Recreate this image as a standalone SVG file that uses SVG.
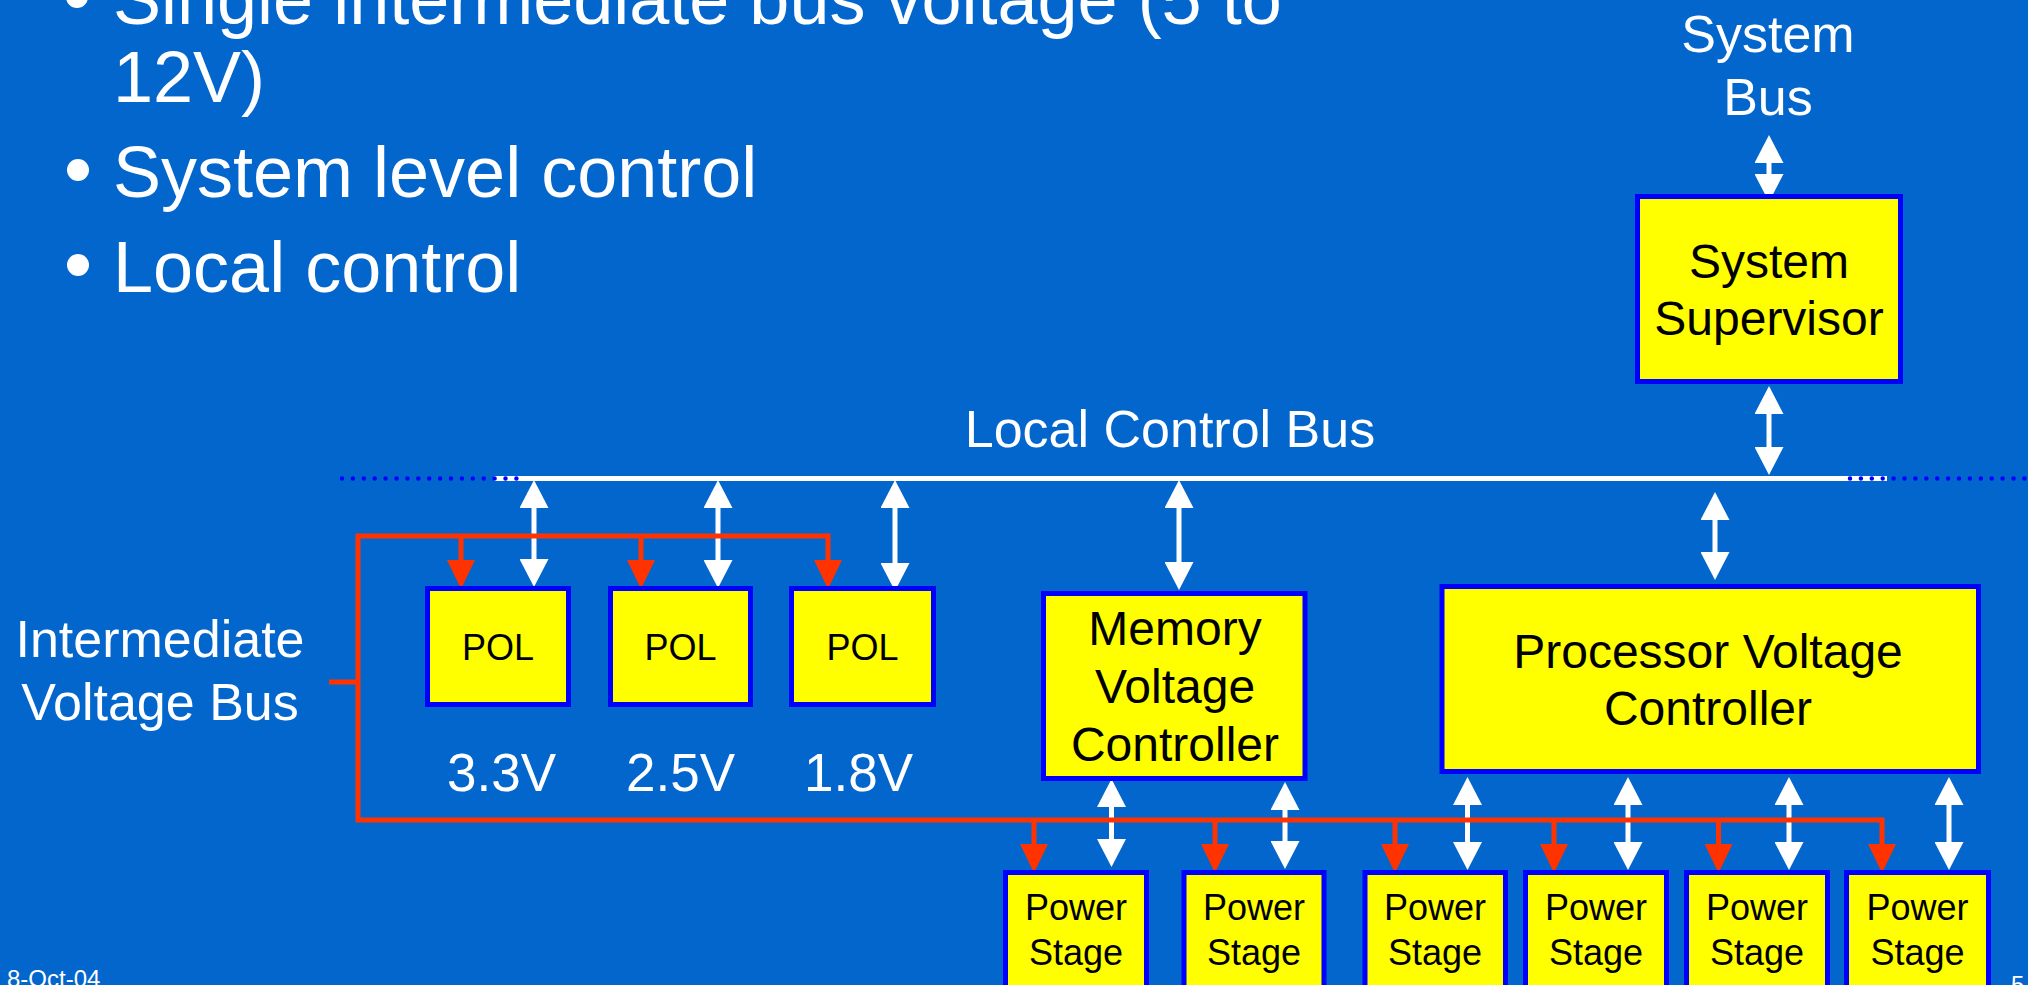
<svg xmlns="http://www.w3.org/2000/svg" width="2028" height="985" viewBox="0 0 2028 985">
<style>
text{font-family:"Liberation Sans",Arial,sans-serif}
.w{fill:#ffffff}
.k{fill:#000000}
.mid{text-anchor:middle}
.box{fill:#ffff00;stroke:#0000ff;stroke-width:5}
.wa{stroke:#ffffff;stroke-width:5;fill:none;marker-start:url(#wh);marker-end:url(#wh)}
.ra{stroke:#ff3300;stroke-width:5;fill:none;marker-end:url(#rh)}
.rl{stroke:#ff3300;stroke-width:5;fill:none;stroke-linejoin:miter}
.dots{stroke:#0000ff;stroke-width:4.5;stroke-linecap:round;stroke-dasharray:0 10.9}
</style>
<defs>
<marker id="wh" markerUnits="userSpaceOnUse" markerWidth="28" markerHeight="29" viewBox="0 0 28 29" refX="8" refY="14.5" orient="auto-start-reverse">
<path d="M0,0 L28,14.5 L0,29 z" fill="#ffffff"/>
</marker>
<marker id="rh" markerUnits="userSpaceOnUse" markerWidth="29" markerHeight="28" viewBox="0 0 29 28" refX="9" refY="14" orient="auto">
<path d="M0,0 L29,14 L0,28 z" fill="#ff3300"/>
</marker>
</defs>
<rect x="0" y="0" width="2028" height="985" fill="#0366cc"/>

<g id="bullets">
<circle cx="77" cy="-3" r="11" fill="#ffffff"/>
<text class="w" x="113" y="24" font-size="72">Single intermediate bus voltage (5 to</text>
<text class="w" x="113" y="102" font-size="72">12V)</text>
<circle cx="78" cy="170" r="11" fill="#ffffff"/>
<text class="w" x="113" y="197" font-size="72">System level control</text>
<circle cx="78" cy="265" r="11" fill="#ffffff"/>
<text class="w" x="113" y="292" font-size="72">Local control</text>
</g>

<g id="labels">
<text class="w mid" x="1768" y="52" font-size="52">System</text>
<text class="w mid" x="1768" y="115" font-size="52">Bus</text>
<text class="w mid" x="1170" y="447" font-size="52">Local Control Bus</text>
<text class="w mid" x="160" y="657" font-size="52">Intermediate</text>
<text class="w mid" x="160" y="720" font-size="52">Voltage Bus</text>
<text class="w" x="447" y="791" font-size="53">3.3V</text>
<text class="w" x="626" y="791" font-size="53">2.5V</text>
<text class="w" x="804" y="791" font-size="53">1.8V</text>
<text class="w" x="7" y="987" font-size="24">8-Oct-04</text>
<text class="w" x="2011" y="993" font-size="24">5</text>
</g>

<g id="connectors">
<line x1="494" y1="478.5" x2="1887" y2="478.5" stroke="#ffffff" stroke-width="5"/>
<line class="dots" x1="342" y1="478.5" x2="520" y2="478.5"/>
<line class="dots" x1="1850" y1="478.5" x2="2030" y2="478.5"/>

<line class="wa" x1="1769" y1="155" x2="1769" y2="182"/>
<line class="wa" x1="1769" y1="406" x2="1769" y2="455"/>
<line class="wa" x1="534" y1="500" x2="534" y2="567"/>
<line class="wa" x1="718" y1="500" x2="718" y2="568"/>
<line class="wa" x1="895" y1="500" x2="895" y2="571"/>
<line class="wa" x1="1179" y1="500" x2="1179" y2="570"/>
<line class="wa" x1="1715" y1="512" x2="1715" y2="560"/>
<line class="wa" x1="1111.5" y1="799" x2="1111.5" y2="847"/>
<line class="wa" x1="1285" y1="802" x2="1285" y2="849"/>
<line class="wa" x1="1467.5" y1="797" x2="1467.5" y2="850"/>
<line class="wa" x1="1628" y1="797" x2="1628" y2="850"/>
<line class="wa" x1="1789" y1="797" x2="1789" y2="850"/>
<line class="wa" x1="1949" y1="797" x2="1949" y2="850"/>

<line class="rl" x1="329" y1="682" x2="358" y2="682"/>
<path class="rl" d="M828,536 H358 V820 H1882"/>
<line class="ra" x1="461" y1="536" x2="461" y2="569"/>
<line class="ra" x1="641" y1="536" x2="641" y2="569"/>
<path class="ra" d="M828,533.5 V569"/>
<line class="ra" x1="1034" y1="820" x2="1034" y2="853"/>
<line class="ra" x1="1215" y1="820" x2="1215" y2="853"/>
<line class="ra" x1="1395" y1="820" x2="1395" y2="853"/>
<line class="ra" x1="1554" y1="820" x2="1554" y2="853"/>
<line class="ra" x1="1718.5" y1="820" x2="1718.5" y2="853"/>
<path class="ra" d="M1882,817.5 V853"/>
</g>

<g id="system-supervisor">
<rect class="box" x="1637.5" y="196.5" width="263" height="185"/>
<text class="k mid" x="1769" y="278" font-size="48">System</text>
<text class="k mid" x="1769" y="335" font-size="48">Supervisor</text>
</g>

<g id="pol-1">
<rect class="box" x="427.5" y="588.5" width="141" height="116"/>
<text class="k mid" x="498" y="660" font-size="36">POL</text>
</g>
<g id="pol-2">
<rect class="box" x="610.5" y="588.5" width="140" height="116"/>
<text class="k mid" x="680.5" y="660" font-size="36">POL</text>
</g>
<g id="pol-3">
<rect class="box" x="791.5" y="588.5" width="142" height="116"/>
<text class="k mid" x="862.5" y="660" font-size="36">POL</text>
</g>

<g id="memory-voltage-controller">
<rect class="box" x="1043.5" y="593.5" width="261.5" height="185"/>
<text class="k mid" x="1175" y="645" font-size="48">Memory</text>
<text class="k mid" x="1175" y="703" font-size="48">Voltage</text>
<text class="k mid" x="1175" y="761" font-size="48">Controller</text>
</g>

<g id="processor-voltage-controller">
<rect class="box" x="1442" y="586.5" width="536.5" height="185"/>
<text class="k mid" x="1708" y="668" font-size="48">Processor Voltage</text>
<text class="k mid" x="1708" y="725" font-size="48">Controller</text>
</g>

<g id="power-stage-1">
<rect class="box" x="1005.5" y="872.5" width="141" height="130"/>
<text class="k mid" x="1076" y="920" font-size="36">Power</text>
<text class="k mid" x="1076" y="965" font-size="36">Stage</text>
</g>
<g id="power-stage-2">
<rect class="box" x="1184" y="872.5" width="140" height="130"/>
<text class="k mid" x="1254" y="920" font-size="36">Power</text>
<text class="k mid" x="1254" y="965" font-size="36">Stage</text>
</g>
<g id="power-stage-3">
<rect class="box" x="1365" y="872.5" width="140.5" height="130"/>
<text class="k mid" x="1435" y="920" font-size="36">Power</text>
<text class="k mid" x="1435" y="965" font-size="36">Stage</text>
</g>
<g id="power-stage-4">
<rect class="box" x="1525.5" y="872.5" width="141" height="130"/>
<text class="k mid" x="1596" y="920" font-size="36">Power</text>
<text class="k mid" x="1596" y="965" font-size="36">Stage</text>
</g>
<g id="power-stage-5">
<rect class="box" x="1686.5" y="872.5" width="141" height="130"/>
<text class="k mid" x="1757" y="920" font-size="36">Power</text>
<text class="k mid" x="1757" y="965" font-size="36">Stage</text>
</g>
<g id="power-stage-6">
<rect class="box" x="1846.5" y="872.5" width="142" height="130"/>
<text class="k mid" x="1917.5" y="920" font-size="36">Power</text>
<text class="k mid" x="1917.5" y="965" font-size="36">Stage</text>
</g>
</svg>
